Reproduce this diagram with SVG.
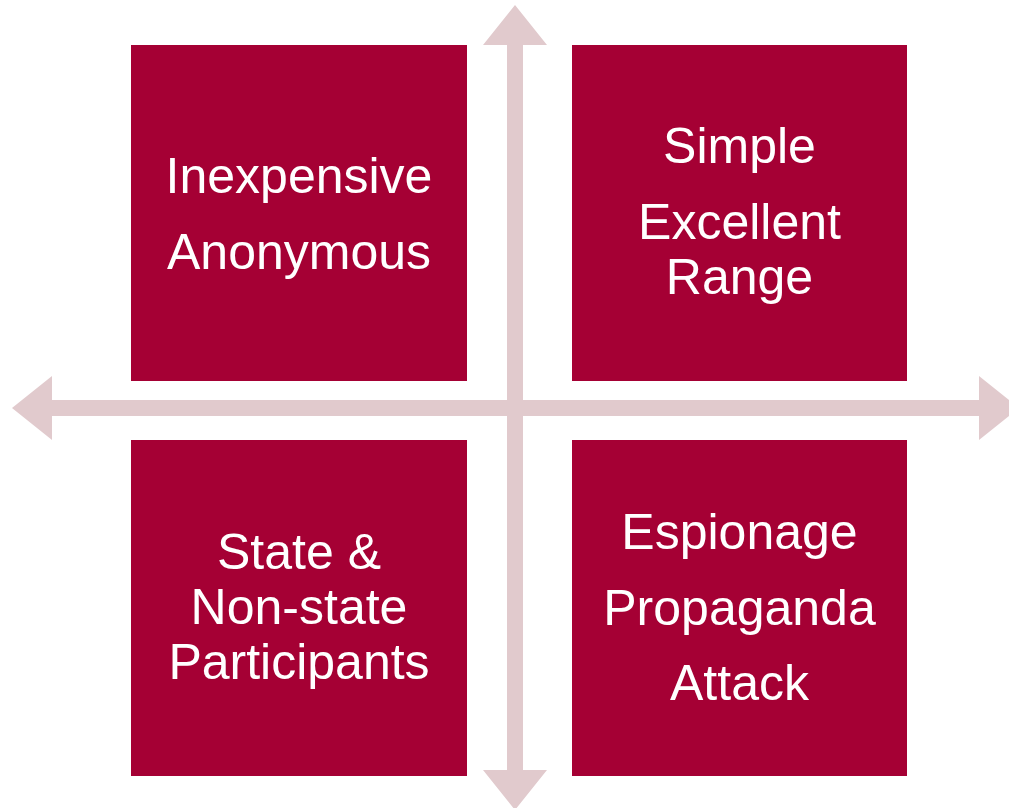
<svg xmlns="http://www.w3.org/2000/svg" width="1009" height="808" viewBox="0 0 1009 808">
  <style>
    .box { fill: #A50034; }
    .axis { fill: #E1CACD; }
    .label { fill: #FFFFFF; font-family: "Liberation Sans", Arial, sans-serif; font-size: 50px; text-anchor: middle; }
  </style>
  <rect width="1009" height="808" fill="#FFFFFF"/>

  <!-- axes: two double-headed arrows crossing at (515, 408) -->
  <g id="connectors">
    <polygon id="axis-horizontal" class="axis" points="12,408 52,376 52,400 979,400 979,376 1019,408 979,440 979,416 52,416 52,440"/>
    <polygon id="axis-vertical" class="axis" points="515,5 547,45 523,45 523,770 547,770 515,810 483,770 507,770 507,45 483,45"/>
  </g>

  <g id="quadrant-top-left">
    <rect class="box" x="131" y="45" width="336" height="336"/>
    <text class="label" x="299" y="193">Inexpensive</text>
    <text class="label" x="299" y="269">Anonymous</text>
  </g>

  <g id="quadrant-top-right">
    <rect class="box" x="572" y="45" width="335" height="336"/>
    <text class="label" x="739.5" y="163">Simple</text>
    <text class="label" x="739.5" y="239">Excellent</text>
    <text class="label" x="739.5" y="293.5">Range</text>
  </g>

  <g id="quadrant-bottom-left">
    <rect class="box" x="131" y="440" width="336" height="336"/>
    <text class="label" x="299" y="569">State &amp;</text>
    <text class="label" x="299" y="624">Non-state</text>
    <text class="label" x="299" y="679">Participants</text>
  </g>

  <g id="quadrant-bottom-right">
    <rect class="box" x="572" y="440" width="335" height="336"/>
    <text class="label" x="739.5" y="549">Espionage</text>
    <text class="label" x="739.5" y="625">Propaganda</text>
    <text class="label" x="739.5" y="700">Attack</text>
  </g>
</svg>
